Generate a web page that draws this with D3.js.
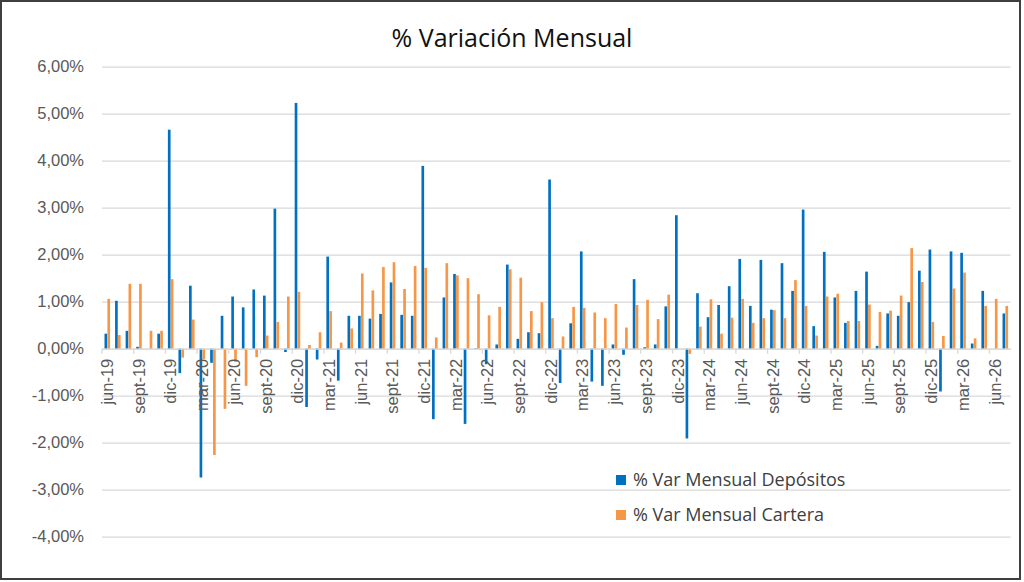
<!DOCTYPE html>
<html>
<head>
<meta charset="utf-8">
<script src="https://cdnjs.cloudflare.com/ajax/libs/d3/7.8.5/d3.min.js"></script>
<style>
  html, body { margin: 0; padding: 0; background: #fff; }
  svg { display: block; font-family: "Open Sans", sans-serif; }
</style>
</head>
<body>
<div id="chart"></div>
<script>
var categories = [
  "jun-19","jul-19","ago-19","sept-19","oct-19","nov-19","dic-19","ene-20","feb-20","mar-20","abr-20","may-20",
  "jun-20","jul-20","ago-20","sept-20","oct-20","nov-20","dic-20","ene-21","feb-21","mar-21","abr-21","may-21",
  "jun-21","jul-21","ago-21","sept-21","oct-21","nov-21","dic-21","ene-22","feb-22","mar-22","abr-22","may-22",
  "jun-22","jul-22","ago-22","sept-22","oct-22","nov-22","dic-22","ene-23","feb-23","mar-23","abr-23","may-23",
  "jun-23","jul-23","ago-23","sept-23","oct-23","nov-23","dic-23","ene-24","feb-24","mar-24","abr-24","may-24",
  "jun-24","jul-24","ago-24","sept-24","oct-24","nov-24","dic-24","ene-25","feb-25","mar-25","abr-25","may-25",
  "jun-25","jul-25","ago-25","sept-25","oct-25","nov-25","dic-25","ene-26","feb-26","mar-26","abr-26","may-26",
  "jun-26","jul-26"
];

// % var mensual depositos
var depositos = [
  0.32, 1.02, 0.38, 0.04, 0.00, 0.32, 4.66, -0.52, 1.34, -2.74, -0.30, 0.70,
  1.11, 0.88, 1.26, 1.13, 2.98, -0.07, 5.23, -1.24, -0.23, 1.96, -0.68, 0.70,
  0.70, 0.64, 0.74, 1.41, 0.72, 0.70, 3.89, -1.50, 1.09, 1.59, -1.60, 0.01,
  -0.33, 0.09, 1.79, 0.21, 0.35, 0.33, 3.60, -0.73, 0.54, 2.07, -0.70, -0.79,
  0.09, -0.13, 1.48, 0.03, 0.09, 0.90, 2.84, -1.91, 1.18, 0.67, 0.93, 1.33,
  1.91, 0.91, 1.89, 0.83, 1.82, 1.23, 2.96, 0.48, 2.06, 1.09, 0.55, 1.23,
  1.64, 0.06, 0.75, 0.70, 0.99, 1.66, 2.11, -0.91, 2.07, 2.04, 0.11, 1.23,
  0.00, 0.75
];

// % var mensual cartera
var cartera = [
  1.06, 0.29, 1.38, 1.38, 0.38, 0.38, 1.48, -0.19, 0.62, -0.22, -2.26, -1.28,
  -0.28, -0.79, -0.18, 0.28, 0.57, 1.11, 1.21, 0.08, 0.35, 0.80, 0.13, 0.43,
  1.60, 1.24, 1.74, 1.84, 1.27, 1.76, 1.72, 0.24, 1.82, 1.56, 1.50, 1.16,
  0.71, 0.89, 1.69, 1.51, 0.80, 0.99, 0.65, 0.26, 0.89, 0.87, 0.77, 0.65,
  0.95, 0.45, 0.93, 1.04, 0.63, 1.15, 0.00, -0.11, 0.47, 1.05, 0.32, 0.66,
  1.06, 0.55, 0.65, 0.82, 0.65, 1.46, 0.91, 0.28, 1.11, 1.17, 0.59, 0.59,
  0.94, 0.78, 0.81, 1.13, 2.14, 1.42, 0.57, 0.27, 1.28, 1.62, 0.22, 0.91,
  1.06, 0.91
];

var yTicks = [-4, -3, -2, -1, 0, 1, 2, 3, 4, 5, 6];
var seriesNames = ["% Var Mensual Depósitos", "% Var Mensual Cartera"];

var width = 1024, height = 582;
var color = {
    dep: "#0070C0",
    car: "#F79646",
};
var plot = { left: 102, right: 1010.6, top: 66.7, bottom: 536.7 };

var locale = d3.formatLocale({ decimal: ",", thousands: ".", grouping: [3], currency: ["", ""], minus: "-" });
var fmt = locale.format(".2f");

var svg = d3.select("#chart").append("svg")
    .attr("width", width)
    .attr("height", height);

svg.append("rect")
    .attr("x", 1).attr("y", 1)
    .attr("width", 1019).attr("height", 578)
    .style("fill", "#fff")
    .style("stroke", "#3f3f3f")
    .style("stroke-width", 2);

var x = d3.scaleBand()
    .domain(categories)
    .range([plot.left, plot.right])
    .paddingInner(0.43)
    .paddingOuter(0.215);

var xs = d3.scaleBand()
    .domain(["dep", "car"])
    .range([0, x.bandwidth()])
    .padding(0.08);

var y = d3.scaleLinear()
    .domain([-4, 6])
    .range([plot.bottom, plot.top]);

// grid + y labels
var yAxis = d3.axisLeft(y)
    .tickValues(yTicks)
    .tickSize(-(plot.right - plot.left))
    .tickPadding(18)
    .tickFormat(function (d) { return fmt(d) + "%"; });

var gy = svg.append("g")
    .attr("transform", "translate(" + plot.left + ",0)")
    .call(yAxis);
gy.select(".domain").remove();
gy.selectAll(".tick line")
    .style("stroke", "#d9d9d9")
    .style("stroke-width", 1.3);
gy.selectAll(".tick text")
    .style("font-size", "16.5px")
    .style("fill", "#595959")
    .attr("x", -18);

// bars
var rows = categories.map(function (c, i) {
    return { cat: c, dep: depositos[i], car: cartera[i] };
});

var g_bars = svg.append("g");
["dep", "car"].forEach(function (key) {
    g_bars.selectAll("rect." + key)
        .data(rows)
        .enter().append("rect")
        .attr("class", key)
        .attr("x", function (d) { return x(d.cat) + xs(key); })
        .attr("width", xs.bandwidth())
        .attr("y", function (d) { return y(Math.max(0, d[key])); })
        .attr("height", function (d) { return Math.abs(y(d[key]) - y(0)); })
        .style("fill", color[key]);
});

// category axis at zero
var step = x.step();
var xAxis = d3.axisBottom(x)
    .tickValues(categories.filter(function (c, i) { return i % 3 === 0; }))
    .tickSize(0)
    .tickPadding(0);

var gx = svg.append("g")
    .attr("transform", "translate(0," + y(0) + ")")
    .call(xAxis);
gx.select(".domain")
    .style("stroke", "#d9d9d9")
    .style("stroke-width", 1.3);
gx.selectAll(".tick text")
    .style("font-size", "16.5px")
    .style("fill", "#595959")
    .attr("transform", "rotate(-90)")
    .attr("text-anchor", "end")
    .attr("x", -10)
    .attr("y", 0)
    .attr("dy", "0.35em");

var tickIdx = d3.range(0, categories.length + 1, 3);
gx.selectAll("line.cattick")
    .data(tickIdx)
    .enter().append("line")
    .attr("class", "cattick")
    .attr("x1", function (i) { return plot.left + i * step; })
    .attr("x2", function (i) { return plot.left + i * step; })
    .attr("y1", 0)
    .attr("y2", 5)
    .style("stroke", "#d9d9d9")
    .style("stroke-width", 1.3);

// title
svg.append("text")
    .attr("x", 512)
    .attr("y", 47)
    .attr("text-anchor", "middle")
    .style("font-size", "25px")
    .style("fill", "#111")
    .text("% Variación Mensual");

// legend
var g_leg = svg.append("g")
    .attr("transform", "translate(616,480)");
[["dep", seriesNames[0]], ["car", seriesNames[1]]].forEach(function (s, i) {
    g_leg.append("rect")
        .attr("x", 0)
        .attr("y", i * 35 - 5)
        .attr("width", 10)
        .attr("height", 10)
        .style("fill", color[s[0]]);
    g_leg.append("text")
        .attr("x", 17)
        .attr("y", i * 35)
        .attr("dy", "0.35em")
        .style("font-size", "18px")
        .style("fill", "#404040")
        .text(s[1]);
});
</script>
</body>
</html>
